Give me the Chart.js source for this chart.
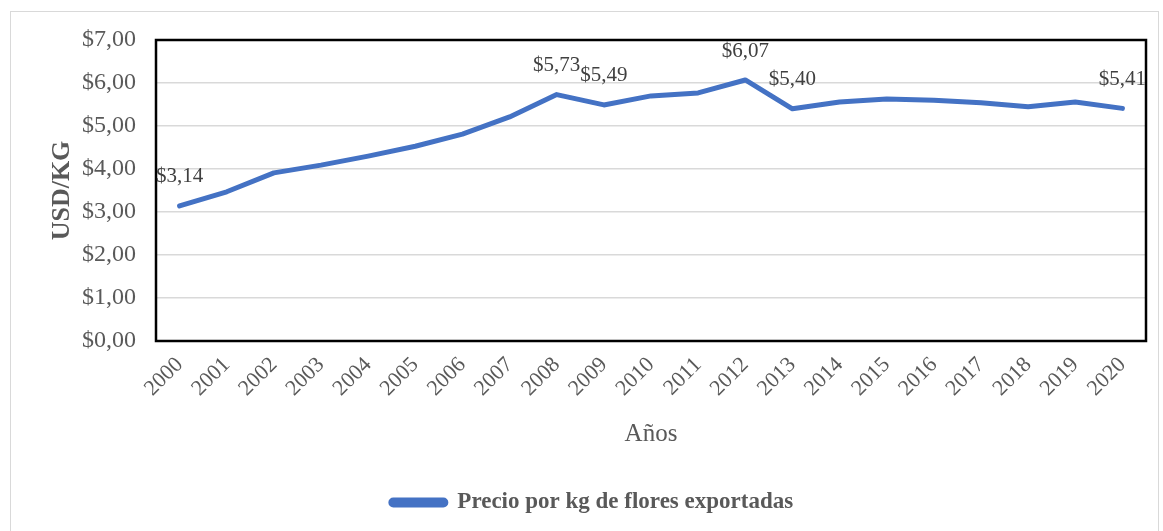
<!DOCTYPE html>
<html>
<head>
<meta charset="utf-8">
<script src="https://cdn.jsdelivr.net/npm/chart.js@4.4.1/dist/chart.umd.min.js"></script>
<style>
    body { margin: 0; background: #ffffff; }
    #wrap { position: relative; width: 1163px; height: 531px; }
    #frame { position: absolute; left: 10px; top: 11px; width: 1149px; height: 530px; border: 1px solid #d9d9d9; box-sizing: border-box; pointer-events: none; }
</style>
</head>
<body>
<div id="wrap">
    <canvas id="chart" width="1163" height="531"></canvas>
    <div id="frame"></div>
</div>
<script>
// Datos
const years = ["2000", "2001", "2002", "2003", "2004", "2005", "2006", "2007", "2008", "2009", "2010",
               "2011", "2012", "2013", "2014", "2015", "2016", "2017", "2018", "2019", "2020"];
const prices = [3.14, 3.47, 3.91, 4.09, 4.30, 4.53, 4.81, 5.21, 5.73, 5.49, 5.70,
                5.77, 6.07, 5.40, 5.56, 5.63, 5.60, 5.54, 5.45, 5.56, 5.41];
const labeledYears = ["2000", "2008", "2009", "2012", "2013", "2020"];
const yTicks = [0, 1, 2, 3, 4, 5, 6, 7];

const serif = "'Liberation Serif', 'Times New Roman', serif";
const blue = "#4472C4";

function money(v) {
    return "$" + v.toFixed(2).replace(".", ",");
}

// marco negro del área de trazado + etiquetas de datos
const extras = {
    id: "extras",
    beforeDatasetsDraw(chart) {
        let a = chart.chartArea;
        let ctx = chart.ctx;
        ctx.save();
        ctx.strokeStyle = "#000000";
        ctx.lineWidth = 2.5;
        ctx.strokeRect(a.left, a.top, a.right - a.left, a.bottom - a.top);
        ctx.restore();
    },
    afterDatasetsDraw(chart) {
        let ctx = chart.ctx;
        let meta = chart.getDatasetMeta(0);
        ctx.save();
        ctx.font = "21px " + serif;
        ctx.fillStyle = "#404040";
        ctx.textAlign = "center";
        ctx.textBaseline = "middle";
        years.forEach((y, i) => {
            if (!labeledYears.includes(y)) return;
            let pt = meta.data[i];
            ctx.fillText(money(prices[i]), pt.x, pt.y - 29);
        });
        ctx.restore();
    }
};

new Chart(document.getElementById("chart"), {
    type: "line",
    data: {
        labels: years,
        datasets: [{
            label: "Precio por kg de flores exportadas",
            data: prices,
            borderColor: blue,
            backgroundColor: blue,
            borderWidth: 5,
            pointRadius: 0,
            tension: 0,
            borderCapStyle: "round",
            borderJoinStyle: "round"
        }]
    },
    options: {
        responsive: false,
        animation: false,
        layout: { padding: { left: 38, top: 40, right: 17, bottom: 7 } },
        plugins: {
            tooltip: { enabled: false },
            legend: {
                position: "bottom",
                labels: {
                    color: "#595959",
                    font: { family: serif, size: 23, weight: "bold" },
                    boxWidth: 55,
                    boxHeight: 5,
                    useBorderRadius: true,
                    borderRadius: 2.5,
                    padding: 20
                }
            }
        },
        scales: {
            x: {
                offset: true,
                grid: { display: false },
                border: { display: false },
                ticks: {
                    color: "#595959",
                    font: { family: serif, size: 22 },
                    minRotation: 45,
                    maxRotation: 45,
                    autoSkip: false,
                    padding: 3
                },
                title: {
                    display: true,
                    text: "Años",
                    color: "#595959",
                    font: { family: serif, size: 25 },
                    padding: { top: 4, bottom: 22 }
                },
                afterFit(scale) { scale.height = 130; }
            },
            y: {
                min: 0,
                max: 7,
                grid: { color: "#d9d9d9", lineWidth: 1.5, drawTicks: false },
                border: { display: false },
                afterBuildTicks(scale) {
                    scale.ticks = yTicks.map(v => ({ value: v }));
                },
                ticks: {
                    color: "#595959",
                    font: { family: serif, size: 24 },
                    padding: 20,
                    callback: v => money(v)
                },
                title: {
                    display: true,
                    text: "USD/KG",
                    color: "#595959",
                    font: { family: serif, size: 26, weight: "bold" },
                    padding: { top: 9, bottom: 0 }
                },
                afterFit(scale) { scale.width = 118; }
            }
        }
    },
    plugins: [extras]
});
</script>
</body>
</html>
